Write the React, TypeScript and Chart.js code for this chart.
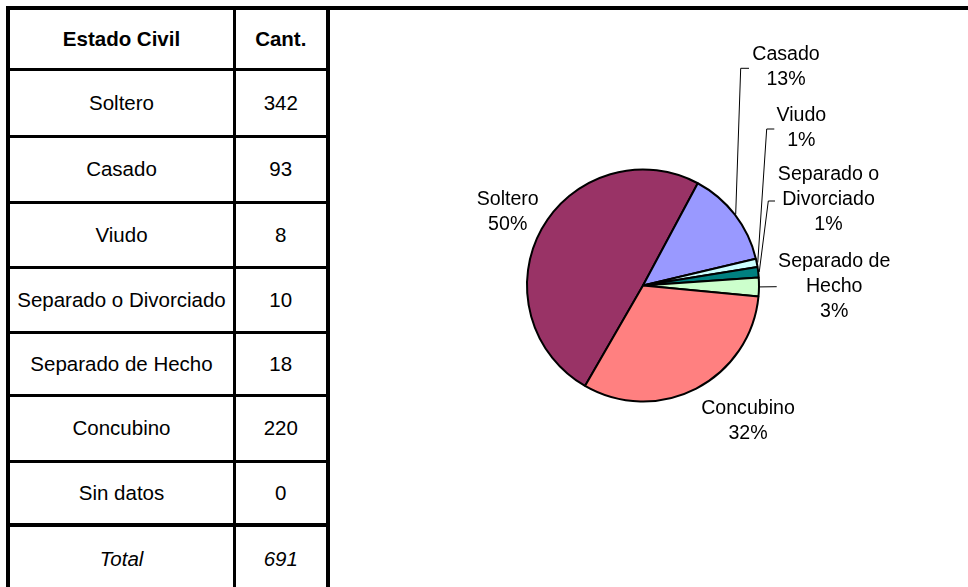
import React, { useEffect, useRef } from "react";
import { Chart, registerables } from "chart.js";

Chart.register(...registerables);

// ---- data ----
const categories = [
  "Soltero",
  "Casado",
  "Viudo",
  "Separado o Divorciado",
  "Separado de Hecho",
  "Concubino",
  "Sin datos",
];
const counts = [342, 93, 8, 10, 18, 220, 0];
const headerLabels = ["Estado Civil", "Cant."];
const totalLabel = "Total";
const pieLabelNames = [
  ["Soltero"],
  ["Casado"],
  ["Viudo"],
  ["Separado o", "Divorciado"],
  ["Separado de", "Hecho"],
  ["Concubino"],
  [],
];
const piePercentLabels = ["50%", "13%", "1%", "1%", "3%", "32%", ""];
const pieColors = ["#993366", "#9999FF", "#CCFFFF", "#008080", "#CCFFCC", "#FF8080", "#FFFFCC"];

// ---- layout ----
const FONT = '"Liberation Sans", Arial, Helvetica, sans-serif';
const TABLE_FONT_SIZE = 20.5;
const PIE_FONT_SIZE = 19.6;
const PIE_LINE_H = 25;
const ROW_LINES = [69.5, 136.5, 202, 267.5, 332, 395, 461, 525];
const ROW_LINE_W = [3, 3, 3, 3, 3, 3, 3, 4.5];
const TABLE_BOTTOM = 591;
const COL1_LEFT = 10;
const COL_DIV = 233;
const COL_DIV_W = 2.5;
const COL2_RIGHT = 326;
// label anchor offsets from pie centre (first line middle)
const LABEL_POS: (number[] | null)[] = [
  [-135.3, -85.5],
  [143, -230.5],
  [158.3, -169.8],
  [185.5, -110.5],
  [191.2, -24],
  [105, 122.8],
  null,
];
// leader line points relative to label anchor
const LEADERS: (number[][] | null)[] = [
  null,
  [[-45.3, 13.3], [-37, 13.3]],
  [[-34.6, 13.3], [-27, 13.3]],
  [[-60.2, 26], [-53.5, 26]],
  [[-57.5, 25.2]],
  null,
  null,
];

const labelPlugin = {
  id: "pieLabels",
  afterDatasetsDraw(chart: any) {
    const ctx = chart.ctx as CanvasRenderingContext2D;
    const meta = chart.getDatasetMeta(0);
    ctx.save();
    meta.data.forEach((arc: any, i: number) => {
      const pos = LABEL_POS[i];
      if (!pos || !counts[i]) return;
      const { x, y, startAngle, endAngle, outerRadius } = arc.getProps(
        ["x", "y", "startAngle", "endAngle", "outerRadius"],
        true
      );
      const lx = x + pos[0];
      const ly = y + pos[1];
      const leader = LEADERS[i];
      if (leader) {
        const mid = (startAngle + endAngle) / 2;
        ctx.beginPath();
        ctx.moveTo(x + (outerRadius + 1) * Math.cos(mid), y + (outerRadius + 1) * Math.sin(mid));
        leader.forEach((p) => ctx.lineTo(lx + p[0], ly + p[1]));
        ctx.strokeStyle = "#000";
        ctx.lineWidth = 1;
        ctx.stroke();
      }
      const lines = [...pieLabelNames[i], piePercentLabels[i]];
      ctx.fillStyle = "#000";
      ctx.font = `${PIE_FONT_SIZE}px ${FONT}`;
      ctx.textAlign = "center";
      ctx.textBaseline = "middle";
      lines.forEach((t, k) => ctx.fillText(t, lx, ly + k * PIE_LINE_H));
    });
    ctx.restore();
  },
};

function Cell(props: { left: number; right: number; top: number; bottom: number; text: string; bold?: boolean; italic?: boolean }) {
  const { left, right, top, bottom, text, bold, italic } = props;
  return (
    <div
      style={{
        position: "absolute",
        left,
        top,
        width: right - left,
        height: bottom - top,
        display: "flex",
        alignItems: "center",
        justifyContent: "center",
        overflow: "hidden",
        whiteSpace: "nowrap",
        fontFamily: FONT,
        fontSize: TABLE_FONT_SIZE,
        fontWeight: bold ? "bold" : "normal",
        fontStyle: italic ? "italic" : "normal",
        color: "#000",
      }}
    >
      {text}
    </div>
  );
}

export default function App() {
  const canvasRef = useRef<HTMLCanvasElement | null>(null);

  useEffect(() => {
    const canvas = canvasRef.current;
    if (!canvas) return;
    const chart = new Chart(canvas, {
      type: "pie",
      data: {
        labels: categories,
        datasets: [
          {
            data: counts,
            backgroundColor: pieColors,
            borderColor: "#000",
            borderWidth: 2,
            hoverOffset: 0,
          },
        ],
      },
      options: {
        responsive: false,
        animation: false,
        rotation: -150,
        radius: 116,
        events: [],
        layout: { padding: { left: 65, right: 0, top: 0, bottom: 26 } },
        plugins: { legend: { display: false }, tooltip: { enabled: false } },
      } as any,
      plugins: [labelPlugin],
    });
    return () => chart.destroy();
  }, []);

  const total = counts.reduce((a, b) => a + b, 0);
  const rowBounds: number[][] = [];
  rowBounds.push([10, ROW_LINES[0] - ROW_LINE_W[0] / 2]);
  for (let i = 0; i < ROW_LINES.length; i++) {
    const top = ROW_LINES[i] + ROW_LINE_W[i] / 2;
    const bottom = i + 1 < ROW_LINES.length ? ROW_LINES[i + 1] - ROW_LINE_W[i + 1] / 2 : TABLE_BOTTOM;
    rowBounds.push([top, bottom]);
  }

  const cells: React.ReactNode[] = [];
  cells.push(<Cell key="h0" left={COL1_LEFT} right={COL_DIV} top={rowBounds[0][0]} bottom={rowBounds[0][1]} text={headerLabels[0]} bold />);
  cells.push(<Cell key="h1" left={COL_DIV + COL_DIV_W} right={COL2_RIGHT} top={rowBounds[0][0]} bottom={rowBounds[0][1]} text={headerLabels[1]} bold />);
  categories.forEach((c, i) => {
    const [t, b] = rowBounds[i + 1];
    cells.push(<Cell key={"n" + i} left={COL1_LEFT} right={COL_DIV} top={t} bottom={b} text={c} />);
    cells.push(<Cell key={"v" + i} left={COL_DIV + COL_DIV_W} right={COL2_RIGHT} top={t} bottom={b} text={String(counts[i])} />);
  });
  const [tt, tb] = rowBounds[categories.length + 1];
  cells.push(<Cell key="t0" left={COL1_LEFT} right={COL_DIV} top={tt} bottom={tb} text={totalLabel} italic />);
  cells.push(<Cell key="t1" left={COL_DIV + COL_DIV_W} right={COL2_RIGHT} top={tt} bottom={tb} text={String(total)} italic />);

  const black = "#000";
  return (
    <div style={{ position: "absolute", left: 0, top: 0, width: 968, height: 587, background: "#fff", overflow: "hidden" }}>
      <div style={{ position: "absolute", left: 6, top: 6, width: 962, height: 4, background: black }} />
      <div style={{ position: "absolute", left: 6, top: 6, width: 4, height: 590, background: black }} />
      <div style={{ position: "absolute", left: COL2_RIGHT, top: 6, width: 4, height: 590, background: black }} />
      <div style={{ position: "absolute", left: COL_DIV, top: 6, width: COL_DIV_W, height: 590, background: black }} />
      {ROW_LINES.map((y, i) => (
        <div
          key={"rl" + i}
          style={{ position: "absolute", left: 6, top: y - ROW_LINE_W[i] / 2, width: COL2_RIGHT - 6, height: ROW_LINE_W[i], background: black }}
        />
      ))}
      {cells}
      <canvas
        ref={canvasRef}
        width={561}
        height={577}
        style={{ position: "absolute", left: 330, top: 10, width: 561, height: 577 }}
      />
    </div>
  );
}
